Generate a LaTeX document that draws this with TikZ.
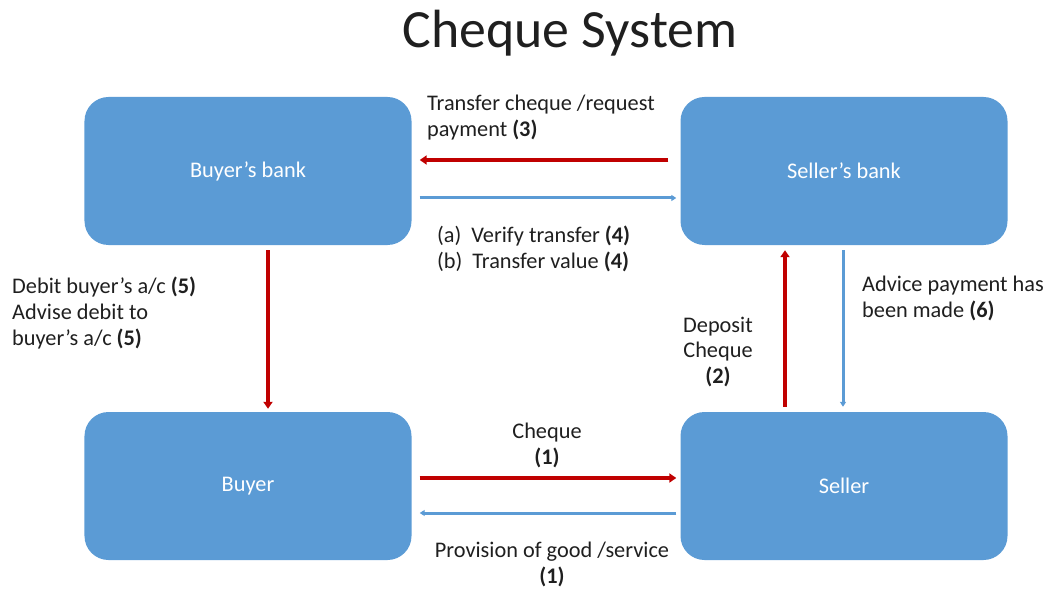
\documentclass[tikz,border=0pt]{standalone}
\usepackage{fontspec}
\setmainfont{Carlito}
\usetikzlibrary{arrows.meta}
\definecolor{boxblue}{HTML}{5B9BD5}
\definecolor{flowred}{HTML}{C00000}
\begin{document}
\begin{tikzpicture}[x=1bp,y=-1bp,
  party/.style={rectangle, rounded corners=24bp, fill=boxblue, text=white,
    minimum width=327bp, minimum height=148bp, font=\fontsize{22.4}{26}\selectfont},
  redflow/.style={draw=flowred, line width=4.5bp, -{Triangle[length=7bp,width=9bp]}},
  blueflow/.style={draw=boxblue, line width=3bp, -{Triangle[length=5bp,width=6bp]}},
  note/.style={inner sep=0pt, font=\fontsize{22.4}{26}\selectfont, text=black!88}]
\useasboundingbox (0,0) rectangle (1049,590);
\node[font=\fontsize{54}{58}\selectfont, text=black!88] (title) at (570,33){Cheque System};
% the four parties
\node[party] (bbank) at (248,171){Buyer’s bank};
\node[party] (sbank) at (844,171){Seller’s bank};
\node[party] (buyer) at (248,486){Buyer};
\node[party] (seller) at (844,486){Seller};
% flows between them
\draw[redflow, shorten <=12bp, shorten >=8bp] ([yshift=11bp]sbank.west) -- ([yshift=11bp]bbank.east);
\draw[blueflow, shorten <=8bp, shorten >=4bp] ([yshift=-27bp]bbank.east) -- ([yshift=-27bp]sbank.west);
\draw[redflow, shorten <=8bp, shorten >=4bp] ([yshift=8bp]buyer.east) -- ([yshift=8bp]seller.west);
\draw[blueflow, shorten <=4bp, shorten >=8bp] ([yshift=-27bp]seller.west) -- ([yshift=-27bp]buyer.east);
\draw[redflow, shorten <=5bp, shorten >=3bp] ([xshift=20bp]bbank.south) -- ([xshift=20bp]buyer.north);
\draw[redflow, shorten <=5bp, shorten >=5bp] ([xshift=-59bp]seller.north) -- ([xshift=-59bp]sbank.south);
\draw[blueflow, shorten <=5bp, shorten >=5bp] ([xshift=-1bp]sbank.south) -- ([xshift=-1bp]seller.north);
% labels
\node[note, anchor=west, align=left] (l3) at (427,118){Transfer cheque /request\\payment \textbf{(3)}};
\node[note, anchor=west, align=left] (l4) at (437,249){(a)\hspace{10bp}Verify transfer \textbf{(4)}\\(b)\hspace{10bp}Transfer value \textbf{(4)}};
\node[note, anchor=west, align=left] (l5) at (12,313){Debit buyer’s a/c \textbf{(5)}\\Advise debit to\\buyer’s a/c \textbf{(5)}};
\node[note, align=center] (l2) at (718,352){Deposit\\Cheque\\\textbf{(2)}};
\node[note, anchor=west, align=left] (l6) at (862,298){Advice payment has\\been made \textbf{(6)}};
\node[note, align=center] (l1a) at (547,445){Cheque\\\textbf{(1)}};
\node[note, align=center] (l1b) at (552,564){Provision of good /service\\\textbf{(1)}};
\end{tikzpicture}
\end{document}
